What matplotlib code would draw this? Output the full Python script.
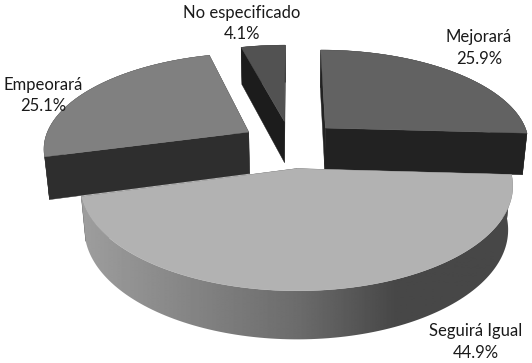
import numpy as np
import matplotlib
matplotlib.use("Agg")
import matplotlib.pyplot as plt
from matplotlib.patches import Polygon

# Data
categories = ["Mejorará", "Seguirá Igual", "Empeorará", "No especificado"]
values = [25.9, 44.9, 25.1, 4.1]

# Styles
top_colors = ["#626262", "#b2b2b2", "#808080", "#525252"]
side_colors = ["#222222", "#484848", "#2e2e2e", "#1c1c1c"]
explode = [0.24, 0.26, 0.24, 0.24]
label_xy = [(479, 48), (476, 342), (43, 95.5), (242, 23.5)]
draw_order = [3, 2, 0, 1]
grad_stops_x = [80, 300, 395, 505, 520]
grad_stops_v = [0.62, 0.42, 0.28, 0.28, 0.33]

# Projection
CX, CY, RX, A, H, P, Q = 290.5, 143.2, 205.0, 94.4, 43.0, 0.155, 0.02


def project(x, y, h):
    f = 1.0 / (1.0 + P * y + Q * h)
    return CX + RX * x * f, CY - A * y * f + H * h * f


fig = plt.figure(figsize=(5.32, 3.63), dpi=100)
ax = fig.add_axes([0, 0, 1, 1])

fractions = np.array(values) / sum(values)
edges = np.concatenate([[0], np.cumsum(fractions)]) * 2 * np.pi


def wall_xy(px, py):
    bx, by = project(px, py, 1.0)
    tx, ty = project(px, py, 0.0)
    return np.r_[tx, bx[::-1]], np.r_[ty, by[::-1]]


for rank, i in enumerate(draw_order):
    a0, a1 = edges[i], edges[i + 1]
    mid = (a0 + a1) / 2
    dx, dy = explode[i] * np.sin(mid), explode[i] * np.cos(mid)
    t = np.linspace(a0, a1, 121)
    arc_x, arc_y = dx + np.sin(t), dy + np.cos(t)
    z = 2 + rank * 3
    # inner walls
    for a in (a0, a1):
        wx, wy = wall_xy(np.array([dx, dx + np.sin(a)]), np.array([dy, dy + np.cos(a)]))
        ax.fill(wx, wy, color=side_colors[i], lw=0.3, zorder=z)
    # outer wall
    wx, wy = wall_xy(arc_x, arc_y)
    if i == 1:
        xs = np.linspace(70, 530, 461)
        row = np.interp(xs, grad_stops_x, grad_stops_v)[None, :]
        im = ax.imshow(row, cmap="gray", vmin=0, vmax=1, extent=(70, 530, 363, 150),
                       aspect="auto", interpolation="bilinear", zorder=z + 1)
        clip = Polygon(np.c_[wx, wy], closed=True, transform=ax.transData,
                       facecolor="none", edgecolor="none")
        ax.add_patch(clip)
        im.set_clip_path(clip)
    else:
        ax.fill(wx, wy, color=side_colors[i], lw=0.3, zorder=z + 1)
    # top face
    tx, ty = project(np.r_[dx, arc_x], np.r_[dy, arc_y], 0.0)
    ax.fill(tx, ty, color=top_colors[i], lw=0.3, zorder=z + 2)

for name, val, (lx, ly) in zip(categories, values, label_xy):
    ax.text(lx, ly, f"{name}\n{val:.1f}%", ha="center", va="center", family="Lato",
            fontsize=12, color="#1a1a1a", linespacing=1.4, zorder=40)

ax.set_xlim(0, 532)
ax.set_ylim(363, 0)
ax.axis("off")

fig.savefig("out.png", dpi=100, facecolor="white")
